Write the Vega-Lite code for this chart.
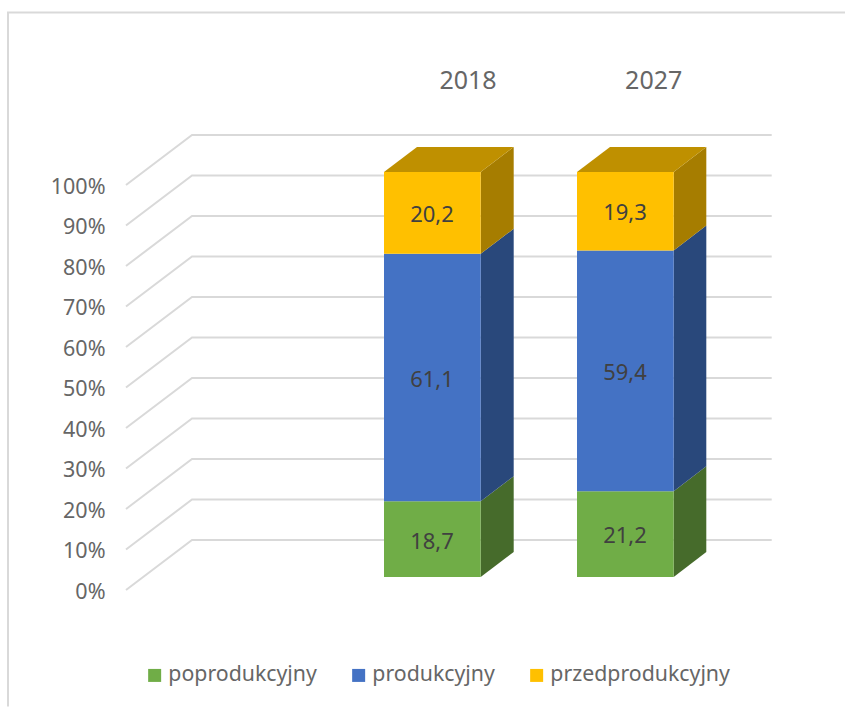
{
"$schema":"https://vega.github.io/schema/vega-lite/v6.json",
"width":700,"height":526.5,
"autosize":"none",
"padding":{"left":100,"top":70.75,"right":45,"bottom":110},
"background":"#ffffff",
"config":{"view":{"stroke":null},"font":"Noto Sans"},
"datasets":{
"frame":[{"i":1,"x":7.45,"y":139.4},{"i":2,"x":-0.92,"y":139.4},{"i":3,"x":-0.92,"y":-32}],
"grid":[
{"v":"0","x":0.26,"y":-3.2},{"v":"0","x":0.92,"y":9.14},{"v":"0","x":6.717,"y":9.14},
{"v":"10","x":0.26,"y":6.8},{"v":"10","x":0.92,"y":19.14},{"v":"10","x":6.717,"y":19.14},
{"v":"20","x":0.26,"y":16.8},{"v":"20","x":0.92,"y":29.14},{"v":"20","x":6.717,"y":29.14},
{"v":"30","x":0.26,"y":26.8},{"v":"30","x":0.92,"y":39.14},{"v":"30","x":6.717,"y":39.14},
{"v":"40","x":0.26,"y":36.8},{"v":"40","x":0.92,"y":49.14},{"v":"40","x":6.717,"y":49.14},
{"v":"50","x":0.26,"y":46.8},{"v":"50","x":0.92,"y":59.14},{"v":"50","x":6.717,"y":59.14},
{"v":"60","x":0.26,"y":56.8},{"v":"60","x":0.92,"y":69.14},{"v":"60","x":6.717,"y":69.14},
{"v":"70","x":0.26,"y":66.8},{"v":"70","x":0.92,"y":79.14},{"v":"70","x":6.717,"y":79.14},
{"v":"80","x":0.26,"y":76.8},{"v":"80","x":0.92,"y":89.14},{"v":"80","x":6.717,"y":89.14},
{"v":"90","x":0.26,"y":86.8},{"v":"90","x":0.92,"y":99.14},{"v":"90","x":6.717,"y":99.14},
{"v":"100","x":0.26,"y":96.8},{"v":"100","x":0.92,"y":109.14},{"v":"100","x":6.717,"y":109.14}
],
"front":[
{"year":"2018","series":"poprodukcyjny","x":2.84,"x2":3.807,"cx":3.32,"start":0,"end":18.7,"mid":8.6,"label":"18,7"},
{"year":"2018","series":"produkcyjny","x":2.84,"x2":3.807,"cx":3.32,"start":18.7,"end":79.8,"mid":48.7,"label":"61,1"},
{"year":"2018","series":"przedprodukcyjny","x":2.84,"x2":3.807,"cx":3.32,"start":79.8,"end":100,"mid":89.5,"label":"20,2"},
{"year":"2027","series":"poprodukcyjny","x":4.77,"x2":5.737,"cx":5.25,"start":0,"end":21.2,"mid":10.1,"label":"21,2"},
{"year":"2027","series":"produkcyjny","x":4.77,"x2":5.737,"cx":5.25,"start":21.2,"end":80.6,"mid":50.4,"label":"59,4"},
{"year":"2027","series":"przedprodukcyjny","x":4.77,"x2":5.737,"cx":5.25,"start":80.6,"end":100,"mid":89.9,"label":"19,3"}
],
"side":[
{"face":"a","series":"poprodukcyjny","x":3.807,"y":0,"y2":18.7},{"face":"a","series":"poprodukcyjny","x":4.137,"y":6.17,"y2":24.87},
{"face":"b","series":"produkcyjny","x":3.807,"y":18.7,"y2":79.8},{"face":"b","series":"produkcyjny","x":4.137,"y":24.87,"y2":85.97},
{"face":"c","series":"przedprodukcyjny","x":3.807,"y":79.8,"y2":100},{"face":"c","series":"przedprodukcyjny","x":4.137,"y":85.97,"y2":106.17},
{"face":"d","series":"poprodukcyjny","x":5.737,"y":0,"y2":21.2},{"face":"d","series":"poprodukcyjny","x":6.063,"y":6.17,"y2":27.37},
{"face":"e","series":"produkcyjny","x":5.737,"y":21.2,"y2":80.6},{"face":"e","series":"produkcyjny","x":6.063,"y":27.37,"y2":86.77},
{"face":"f","series":"przedprodukcyjny","x":5.737,"y":80.6,"y2":100},{"face":"f","series":"przedprodukcyjny","x":6.063,"y":86.77,"y2":106.17}
],
"top":[
{"face":"2018","x":2.84,"y":100,"y2":100},{"face":"2018","x":3.17,"y":100,"y2":106.17},{"face":"2018","x":3.807,"y":100,"y2":106.17},{"face":"2018","x":4.137,"y":106.17,"y2":106.17},
{"face":"2027","x":4.77,"y":100,"y2":100},{"face":"2027","x":5.1,"y":100,"y2":106.17},{"face":"2027","x":5.737,"y":100,"y2":106.17},{"face":"2027","x":6.063,"y":106.17,"y2":106.17}
],
"years":[{"year":"2018","x":3.68,"y":122.5},{"year":"2027","x":5.537,"y":122.5}]
},
"resolve":{"scale":{"color":"independent"}},
"layer":[
{"data":{"name":"frame"},"mark":{"type":"line","color":"#D9D9D9","strokeWidth":2,"clip":false},
 "encoding":{
  "x":{"field":"x","type":"quantitative","scale":{"domain":[0,7],"nice":false,"zero":false},"axis":null},
  "y":{"field":"y","type":"quantitative","scale":{"domain":[-5,125],"nice":false,"zero":false},
   "axis":{"title":null,"values":[0,10,20,30,40,50,60,70,80,90,100],"labelExpr":"datum.value+'%'","domain":false,"ticks":false,"grid":false,"labelPadding":-5,"labelOffset":15,"labelFontSize":21.5,"labelColor":"#666666","labelFont":"Noto Sans"}},
  "order":{"field":"i","type":"quantitative"}
 }},
{"data":{"name":"grid"},"mark":{"type":"line","color":"#D9D9D9","strokeWidth":2},
 "encoding":{"x":{"field":"x","type":"quantitative"},"y":{"field":"y","type":"quantitative"},"detail":{"field":"v"},"order":{"field":"x","type":"quantitative"}}},
{"data":{"name":"side"},"mark":{"type":"area","orient":"vertical"},
 "encoding":{"x":{"field":"x","type":"quantitative"},"y":{"field":"y","type":"quantitative"},"y2":{"field":"y2"},"detail":{"field":"face"},
  "color":{"field":"series","type":"nominal","legend":null,"scale":{"domain":["poprodukcyjny","produkcyjny","przedprodukcyjny"],"range":["#466B2B","#29487B","#A67D00"]}}}},
{"data":{"name":"top"},"mark":{"type":"area","orient":"vertical","color":"#BF9000"},
 "encoding":{"x":{"field":"x","type":"quantitative"},"y":{"field":"y","type":"quantitative"},"y2":{"field":"y2"},"detail":{"field":"face"}}},
{"data":{"name":"front"},"mark":{"type":"rect"},
 "encoding":{"x":{"field":"x","type":"quantitative"},"x2":{"field":"x2"},"y":{"field":"start","type":"quantitative"},"y2":{"field":"end"},
  "color":{"field":"series","type":"nominal","scale":{"domain":["poprodukcyjny","produkcyjny","przedprodukcyjny"],"range":["#70AD47","#4472C4","#FFC000"]},
   "legend":{"title":null,"orient":"none","legendX":44,"legendY":594,"direction":"horizontal","columns":3,"symbolType":"square","symbolSize":169,"symbolStrokeWidth":0,"symbolOpacity":1,"labelFontSize":21.3,"labelLimit":300,"labelColor":"#666666","labelFont":"Noto Sans","columnPadding":31,"labelOffset":3}}}},
{"data":{"name":"front"},"mark":{"type":"text","fontSize":22,"color":"#404040","font":"Noto Sans","align":"center","baseline":"middle"},
 "encoding":{"x":{"field":"cx","type":"quantitative"},"y":{"field":"mid","type":"quantitative"},"text":{"field":"label"}}},
{"data":{"name":"years"},"mark":{"type":"text","fontSize":25,"color":"#666666","font":"Noto Sans","align":"center","baseline":"middle"},
 "encoding":{"x":{"field":"x","type":"quantitative"},"y":{"field":"y","type":"quantitative"},"text":{"field":"year"}}}
]
}
